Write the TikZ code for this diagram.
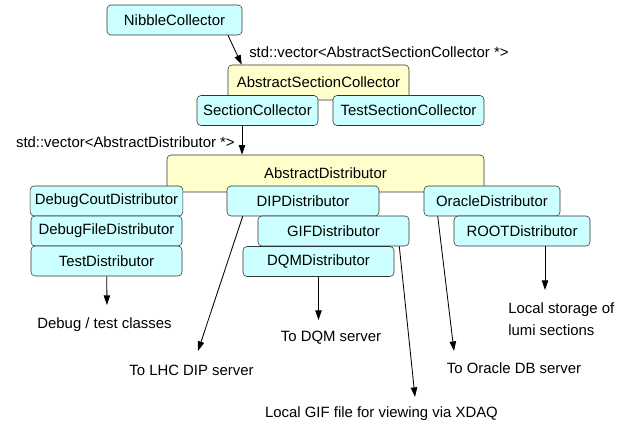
\documentclass[tikz,border=0pt]{standalone}
\usepackage{fontspec}
\setmainfont{Liberation Sans}
\usepackage{tikz}
\usetikzlibrary{shapes.geometric, arrows.meta, calc}
\definecolor{boxCyan}{RGB}{204,255,255}
\definecolor{boxYellow}{RGB}{255,255,204}
\tikzstyle{arrow} = [semithick,->,>={Triangle[length=2.4mm,width=1.6mm]}]
\tikzstyle{roundRec} = [rectangle, rounded corners=1mm, minimum width=37.75mm, minimum height=7.5mm, text centered, draw=black!80, fill=boxCyan]
\tikzstyle{baseRec} = [rectangle, rounded corners=1mm, text centered, draw=black!80, fill=boxYellow]
\tikzstyle{txt} = [inner sep=0pt]

\begin{document}
\begin{tikzpicture}[x=0.25mm, y=-0.25mm, node distance=7.5mm, font=\fontsize{10.6}{12.8}\selectfont]
		\useasboundingbox (0,0) rectangle (635,425);
		% collectors
		\node (nibble) [roundRec, minimum width=33.75mm] at (174.5,20) {NibbleCollector};
		\node (absSection) [baseRec, minimum width=45.25mm, minimum height=8.75mm] at (318.5,82.5) {AbstractSectionCollector};
		\node (section) [roundRec, minimum width=30.25mm] at (257.5,110.5) {SectionCollector};
		\node (testSection) [roundRec] at (408.5,110.5) {TestSectionCollector};
		% distributors
		\node (absDist) [baseRec, minimum width=79.25mm, minimum height=9.25mm] at (325.5,173.5) {AbstractDistributor};
		\node (debugCout) [roundRec] at (106.5,201) {DebugCoutDistributor};
		\node (debugFile) [roundRec, below of=debugCout] {DebugFileDistributor};
		\node (testDist) [roundRec, below of=debugFile] {TestDistributor};
		\node (dip) [roundRec, minimum width=38mm] at (303,201) {DIPDistributor};
		\node (gif) [roundRec] at (333.5,231) {GIFDistributor};
		\node (dqm) [roundRec] at (318.5,261.5) {DQMDistributor};
		\node (oracle) [roundRec, minimum width=34mm] at (492,201) {OracleDistributor};
		\node (root) [roundRec, minimum width=34mm] at (522,231) {ROOTDistributor};
		% texts
		\node (ascLbl) [txt, anchor=west] at (249,52) {std::vector<AbstractSectionCollector *>};
		\node (adLbl) [txt, anchor=east] at (235,142) {std::vector<AbstractDistributor *>};
		\node (debugLbl) [txt] at (104.5,325) {Debug / test classes};
		\node (dipLbl) [txt] at (191.5,370) {To LHC DIP server};
		\node (dqmLbl) [txt] at (331,338) {To DQM server};
		\node (gifLbl) [txt] at (381.5,414) {Local GIF file for viewing via XDAQ};
		\node (oracleLbl) [txt] at (514,368) {To Oracle DB server};
		\node (rootLbl) [txt, anchor=west, align=left, font=\fontsize{10.6}{15.6}\selectfont] at (508,319) {Local storage of\\lumi sections};
		% arrow ends
		\coordinate (secOut) at ($(section.south)+(-15.5,0)$);
		\coordinate (debugEnd) at (107,305);
		\coordinate (dipEnd) at (198,351);
		\coordinate (dqmEnd) at (318.5,320);
		\coordinate (gifEnd) at (415,397);
		\coordinate (oracleEnd) at (454,351);
		\coordinate (rootEnd) at (545,290);
		\draw [arrow] ($(nibble.south)+(53.5,0)$) -- ($(absSection.north west)+(14,0)$);
		\draw [arrow] (secOut) -- (secOut |- absDist.north);
		\draw [arrow] (testDist) -- (debugEnd);
		\draw [arrow] ($(dip.south west)+(16,0)$) -- (dipEnd);
		\draw [arrow] (dqm) -- (dqmEnd);
		\draw [arrow] ($(gif.south east)+(-10,0)$) -- (gifEnd);
		\draw [arrow] ($(oracle.south west)+(14,0)$) -- (oracleEnd);
		\draw [arrow] ($(root.south)+(23,0)$) -- (rootEnd);
	\end{tikzpicture}
\end{document}
